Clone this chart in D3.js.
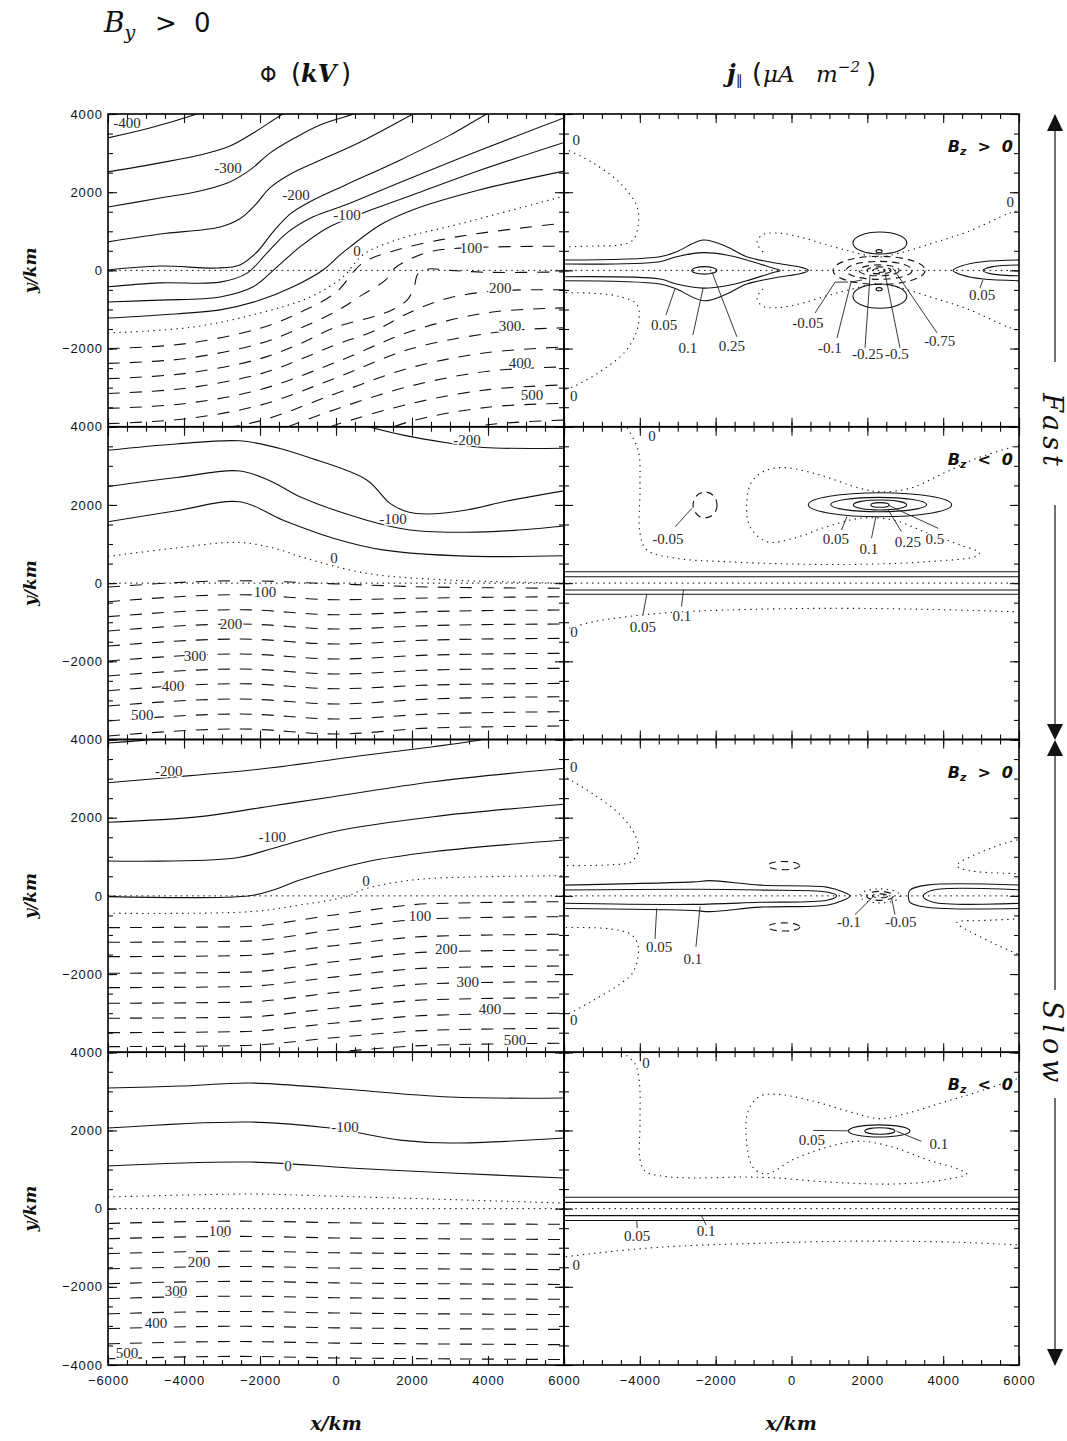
<!DOCTYPE html>
<html>
<head>
<meta charset="utf-8">
<script src="https://cdn.jsdelivr.net/npm/d3@7"></script>
<style>
  body { margin: 0; background: #fff; }
  svg { display: block; }
</style>
</head>
<body>
<svg id="fig" width="1067" height="1441"></svg>
<script>
// ================= axis values =================
const xDomain = [-6000, 6000];
const yDomain = [-4000, 4000];
const xMajor = [-6000, -4000, -2000, 0, 2000, 4000, 6000];
const yMajor = [-4000, -2000, 0, 2000, 4000];
const xLabelsLeft = [-6000, -4000, -2000, 0, 2000, 4000, 6000];
const xLabelsRight = [-4000, -2000, 0, 2000, 4000, 6000];
const yLabelsUpper = [4000, 2000, 0, -2000];
const yLabelsBottom = [4000, 2000, 0, -2000, -4000];
const rowX = [-6000, -2500, 0, 2500, 6000];

// ================= electric potential Φ (kV), contours in km =================
// Fast, Bz > 0
const phiFastPos = [
  {level: -400, pts: [[-6000,3390],[-4900,3640],[-3660,4000],[-3320,4120]]},
  {level: -350, pts: [[-6000,2520],[-4630,2750],[-3580,2950],[-2790,3180],[-2130,3540],[-1400,4000],[-1080,4150]]},
  {level: -300, pts: [[-6000,1620],[-4630,1850],[-3580,2030],[-2840,2240],[-2260,2570],[-1740,3000],[-1080,3390],[-420,3720],[450,4000],[760,4150]]},
  {level: -250, pts: [[-6000,730],[-4630,930],[-3050,1110],[-2530,1320],[-2130,1670],[-1740,2110],[-1210,2460],[-420,2820],[630,3280],[2030,4000],[2340,4150]]},
  {level: -200, pts: [[-6000,10],[-4630,110],[-3130,60],[-2530,140],[-2080,470],[-1660,980],[-1210,1440],[-600,1800],[240,2180],[1680,2820],[3000,3460],[3970,4000],[4400,4200]]},
  {level: -150, pts: [[-6000,-420],[-4630,-320],[-3050,-300],[-2340,-70],[-1820,440],[-1290,960],[-600,1370],[240,1670],[1680,2250],[3790,3070],[6000,3900],[6300,4000]]},
  {level: -100, pts: [[-6000,-810],[-4630,-760],[-3050,-680],[-2180,-420],[-1550,90],[-950,600],[-240,1080],[710,1470],[2210,2000],[3790,2560],[6000,3270]]},
  {level: -50, pts: [[-6000,-1220],[-4630,-1140],[-3050,-1010],[-2000,-760],[-1130,-420],[-340,10],[100,390],[370,600],[1160,1160],[2030,1550],[3790,2060],[6000,2540]]},
  {level: 0, pts: [[-6000,-1600],[-3760,-1450],[-2000,-1090],[-680,-680],[180,-170],[710,400],[1600,780],[3340,1210],[6000,1900]]},
  {level: 50, pts: [[-6000,-2000],[-4000,-1880],[-2000,-1480],[-1000,-1100],[0,-560],[700,190],[1600,520],[2740,780],[3870,960],[6000,1210]]},
  {level: 100, pts: [[-6000,-2380],[-4000,-2260],[-2000,-1870],[-1000,-1500],[0,-1050],[700,-620],[1300,-250],[1550,60],[1870,250],[2470,480],[3260,570],[6000,620]]},
  {level: 150, pts: [[-6000,-2770],[-4000,-2640],[-2000,-2260],[-1000,-1900],[0,-1450],[1000,-1180],[1500,-1000],[1870,-760],[2050,-450],[2150,-100],[2400,30],[3000,0],[4000,-50],[6000,-40]]},
  {level: 200, pts: [[-6000,-3150],[-4000,-3020],[-2000,-2650],[-1000,-2300],[0,-1900],[1000,-1550],[2000,-1050],[3000,-700],[4300,-520],[6000,-500]]},
  {level: 250, pts: [[-6000,-3530],[-4000,-3410],[-2000,-3050],[0,-2350],[2000,-1550],[4000,-1080],[6000,-960]]},
  {level: 300, pts: [[-6000,-3920],[-4000,-3800],[-2000,-3450],[0,-2750],[2000,-2000],[4500,-1550],[6000,-1470]]},
  {level: 350, pts: [[-4000,-4190],[-2000,-3850],[0,-3150],[2000,-2480],[4000,-2100],[6000,-1960]]},
  {level: 400, pts: [[-1800,-4200],[0,-3550],[2000,-2950],[4000,-2580],[6000,-2470]]},
  {level: 450, pts: [[-700,-4200],[0,-3950],[2000,-3400],[4000,-3050],[6000,-2930]]},
  {level: 500, pts: [[1000,-4200],[2000,-3850],[4000,-3500],[6000,-3400]]},
  {level: 550, pts: [[2800,-4200],[4000,-3950],[6000,-3830]]}
];
const phiFastPosLabels = [[-400,-5500,3760],[-300,-2840,2630],[-200,-1050,1930],[-100,290,1420],[0,550,500],
  [100,3550,570],[200,4320,-450],[300,4580,-1420],[400,4840,-2370],[500,5160,-3190]];

// Fast, Bz < 0
const phiFastNeg = [
  {level: -200, pts: [[100,4250],[720,4040],[1800,3780],[3000,3580],[3880,3470],[6000,3450]]},
  {level: -150, pts: [[-6000,3400],[-4200,3560],[-2530,3640],[-1500,3450],[-770,3230],[810,2640],[1420,2040],[1900,1820],[2390,1770],[3440,1870],[4500,2100],[6000,2360]]},
  {level: -100, pts: [[-6000,2470],[-4200,2700],[-2530,2870],[-1700,2600],[-950,2210],[810,1610],[1950,1360],[3440,1300],[4700,1350],[6000,1460]]},
  {level: -50, pts: [[-6000,1570],[-4200,1850],[-2530,2080],[-1390,1610],[-70,1150],[1240,850],[3440,690],[6000,700]]},
  {level: 0, pts: [[-6000,680],[-4200,900],[-2530,1040],[-1500,860],[-950,680],[810,250],[2560,100],[4500,30],[6000,0]]}
];
const phiFastNegRows = [
  {level: 50, ys: [-100,60,-20,-100,-130]},
  {level: 100, ys: [-476,-297,-425,-381,-348]},
  {level: 150, ys: [-859,-680,-808,-726,-688]},
  {level: 200, ys: [-1225,-1046,-1174,-1084,-1046]},
  {level: 250, ys: [-1609,-1430,-1558,-1455,-1412]},
  {level: 300, ys: [-1992,-1813,-1941,-1839,-1795]},
  {level: 350, ys: [-2376,-2197,-2325,-2222,-2179]},
  {level: 400, ys: [-2752,-2573,-2701,-2606,-2563]},
  {level: 450, ys: [-3143,-2964,-3092,-2964,-2905]},
  {level: 500, ys: [-3527,-3348,-3476,-3348,-3289]},
  {level: 550, ys: [-3910,-3731,-3860,-3706,-3655]}
];
const phiFastNegLabels = [[-200,3450,3670],[-100,1500,1640],[0,-50,640],
  [100,-1870,-230],[200,-2760,-1050],[300,-3710,-1870],[400,-4290,-2630],[500,-5100,-3380]];

// Slow, Bz > 0
const phiSlowPos = [
  {level: -250, pts: [[-6000,3910],[-4970,3990],[-4000,4120]]},
  {level: -200, pts: [[-6000,2895],[-4450,3023],[-1820,3263],[810,3604],[2560,3816],[3790,3987],[4300,4100]]},
  {level: -150, pts: [[-6000,1882],[-3580,2026],[-1820,2281],[-70,2537],[2560,2921],[6000,3263]]},
  {level: -100, pts: [[-6000,893],[-2700,962],[-1650,1217],[-70,1642],[2560,2026],[6000,2343]]},
  {level: -50, pts: [[-6000,-20],[-2260,5],[-1650,151],[-950,407],[810,875],[2560,1130],[6000,1430]]},
  {level: 0, pts: [[-6000,-445],[-2260,-404],[-950,-233],[190,-36],[810,194],[1680,363],[2560,450],[6000,517]]}
];
const phiSlowPosRows = [
  {level: 50, ys: [-813,-788,-481,-199,-148]},
  {level: 100, ys: [-1187,-1161,-859,-583,-532]},
  {level: 150, ys: [-1555,-1529,-1268,-1033,-982]},
  {level: 200, ys: [-1980,-1954,-1680,-1435,-1384]},
  {level: 250, ys: [-2348,-2322,-2072,-1844,-1793]},
  {level: 300, ys: [-2747,-2721,-2471,-2245,-2194]},
  {level: 350, ys: [-3130,-3105,-2867,-2655,-2604]},
  {level: 400, ys: [-3499,-3473,-3251,-3054,-3002]},
  {level: 450, ys: [-3857,-3831,-3622,-3437,-3386]},
  {level: 500, ys: [-4222,-4197,-3992,-3821,-3770]}
];
const phiSlowPosLabels = [[-200,-4400,3194],[-100,-1680,1506],[0,790,381],
  [100,2210,-512],[200,2900,-1356],[300,3470,-2200],[400,4050,-2893],[500,4710,-3690]];

// Slow, Bz < 0
const phiSlowNeg = [
  {level: -150, pts: [[-6000,3084],[-4105,3135],[-2263,3212],[-158,3084],[3000,2854],[6000,2829]]},
  {level: -100, pts: [[-6000,2061],[-2263,2215],[-158,2061],[1684,1753],[3000,1678],[6000,1806]]},
  {level: -50, pts: [[-6000,1090],[-2263,1192],[368,1038],[3000,910],[6000,783]]},
  {level: 0, pts: [[-6000,297],[-2263,373],[-158,322],[6000,143]]}
];
const phiSlowNegRows = [
  {level: 50, ys: [-380,-320,-360,-385,-400]},
  {level: 100, ys: [-770,-710,-750,-770,-790]},
  {level: 150, ys: [-1150,-1090,-1130,-1150,-1170]},
  {level: 200, ys: [-1540,-1480,-1520,-1540,-1560]},
  {level: 250, ys: [-1920,-1860,-1900,-1920,-1940]},
  {level: 300, ys: [-2300,-2240,-2280,-2300,-2320]},
  {level: 350, ys: [-2690,-2630,-2670,-2690,-2710]},
  {level: 400, ys: [-3070,-3010,-3050,-3070,-3090]},
  {level: 450, ys: [-3460,-3400,-3440,-3460,-3480]},
  {level: 500, ys: [-3840,-3780,-3820,-3840,-3860]}
];
const phiSlowNegLabels = [[-100,237,2087],[0,-1263,1090],
  [100,-3053,-573],[200,-3605,-1366],[300,-4210,-2107],[400,-4737,-2925],[500,-5500,-3693]];

// ================= field-aligned current j|| (µA m^-2), contours in km =================
// Fast, Bz > 0
const jFastPos = [
  {level: 0, pts: [[-6000,3130],[-5890,3078],[-5230,2744],[-4520,2233],[-4070,1620],[-4050,1110],[-4180,777],[-4520,650],[-5230,624],[-6100,598]]},
  {level: 0, pts: [[-6100,-570],[-5230,-586],[-4520,-673],[-4070,-885],[-4050,-1440],[-4350,-2036],[-4980,-2548],[-5760,-2975],[-6100,-3070]]},
  {level: 0, pts: [[-752,471],[-910,700],[-780,905],[-380,956],[224,854],[936,650],[1622,471],[2255,343],[2861,445],[3731,701],[4628,982],[5762,1468],[6100,1560]]},
  {level: 0, pts: [[-752,-471],[-910,-700],[-780,-905],[-380,-956],[224,-854],[936,-650],[1622,-471],[2255,-343],[2861,-445],[3731,-701],[4628,-982],[5762,-1468],[6100,-1560]]},
  {level: 0.05, pts: [[-6100,266],[-3470,350],[-3030,478],[-2330,777],[-1710,606],[-1180,350],[-390,182],[250,80],[443,0],[250,-80],[-390,-182],[-1180,-350],[-1710,-606],[-2330,-777],[-3030,-478],[-3470,-350],[-6100,-266]]},
  {level: 0.1, pts: [[-6100,164],[-3470,222],[-3030,350],[-2330,453],[-1710,394],[-1180,266],[-500,60],[-300,0],[-500,-60],[-1180,-266],[-1710,-394],[-2330,-453],[-3030,-350],[-3470,-222],[-6100,-164]]},
  {level: 0.05, pts: [[6100,266],[5050,222],[4500,120],[4260,0],[4500,-120],[5050,-222],[6100,-266]]},
  {level: 0.1, pts: [[6100,138],[5310,95],[5050,0],[5310,-95],[6100,-138]]}
];
const jFastPosRings = [
  {level: 0.25, cx: -2300, cy: 0, rx: 330, ry: 95},
  {level: 0.05, cx: 2330, cy: 700, rx: 710, ry: 280},
  {level: 0.05, cx: 2330, cy: -660, rx: 710, ry: 310},
  {level: 0.1, cx: 2310, cy: 490, rx: 80, ry: 40},
  {level: 0.1, cx: 2310, cy: -480, rx: 80, ry: 40},
  {level: -0.05, cx: 2310, cy: 0, rx: 1213, ry: 360},
  {level: -0.1, cx: 2310, cy: 0, rx: 870, ry: 230},
  {level: -0.25, cx: 2310, cy: 0, rx: 530, ry: 140},
  {level: -0.5, cx: 2310, cy: 0, rx: 316, ry: 90},
  {level: -0.75, cx: 2310, cy: 0, rx: 160, ry: 50}
];
const jFastPosLabels = [[0,-5680,3340],[0,-5740,-3210],[0,5770,1750],
  [0.05,-3360,-1400],[0.1,-2730,-1980],[0.25,-1570,-1930],
  [-0.05,435,-1350],[-0.1,1010,-1980],[-0.25,2010,-2140],[-0.5,2780,-2140],[-0.75,3910,-1800],[0.05,5030,-630]];
const jFastPosLeaders = [
  [[-3310,-1140],[-3070,-460]],
  [[-2600,-1650],[-2330,-450]],
  [[-1440,-1700],[-2100,-40]],
  [[620,-1090],[1150,-300],[1490,-300]],
  [[1200,-1730],[1570,-300],[1860,-245]],
  [[1940,-1980],[2070,-140]],
  [[2860,-1980],[2470,-90]],
  [[3840,-1600],[2670,60]],
  [[4970,-450],[5050,-245]]
];

// Fast, Bz < 0
const jFastNeg = [
  {level: 0, pts: [[-4400,4100],[-4346,4000],[-4040,3386],[-3995,2465],[-3995,1274],[-3818,847],[-3027,634],[-1709,547],[47,488],[1806,481],[3565,547],[4884,693],[4952,777],[4451,975],[3565,1289],[2684,1614],[1806,1657],[928,1442],[47,1146],[-654,1059],[-1094,1442],[-1181,2041],[-1050,2593],[-654,2893],[-127,2951],[752,2765],[1806,2425],[2334,2338],[3125,2425],[4003,2808],[4884,3192],[6100,3560]]},
  {level: 0, pts: [[-6000,-1200],[-5226,-987],[-3468,-772],[-1709,-688],[928,-645],[3565,-670],[5938,-731],[6100,-735]]},
  {level: 0.05, pts: [[-6100,292],[6100,292]]},
  {level: 0.1, pts: [[-6100,164],[6100,164]]},
  {level: 0.1, pts: [[-6100,-176],[6100,-176]]},
  {level: 0.05, pts: [[-6100,-286],[6100,-286]]}
];
const jFastNegRings = [
  {level: 0.05, cx: 2334, cy: 2005, rx: 1890, ry: 307},
  {level: 0.1, cx: 2300, cy: 2010, rx: 1266, ry: 184},
  {level: 0.25, cx: 2334, cy: 2000, rx: 704, ry: 128},
  {level: 0.5, cx: 2334, cy: 2000, rx: 242, ry: 60},
  {level: -0.05, cx: -2280, cy: 2000, rx: 316, ry: 330}
];
const jFastNegLabels = [[0,-3680,3760],[0,-5735,-1250],
  [0.05,-3920,-1120],[0.1,-2890,-840],[-0.05,-3260,1130],
  [0.05,1170,1130],[0.1,2040,870],[0.25,3070,1050],[0.5,3780,1130]];
const jFastNegLeaders = [
  [[-3920,-816],[-3820,-300]],
  [[-2900,-600],[-2850,-180]],
  [[-3070,1440],[-2630,1910]],
  [[1320,1360],[1460,1700]],
  [[2110,1150],[2230,1720]],
  [[2900,1320],[2550,1870]],
  [[3870,1400],[2560,1990]]
];

// Slow, Bz > 0
const jSlowPos = [
  {level: 0, pts: [[-6050,3080],[-5928,3018],[-5226,2601],[-4522,2079],[-4127,1558],[-4040,1192],[-4214,880],[-4786,795],[-6100,775]]},
  {level: 0, pts: [[-6100,-813],[-4786,-844],[-4214,-1000],[-4040,-1312],[-4170,-1939],[-4522,-2253],[-5226,-2670],[-5928,-3036],[-6050,-3080]]},
  {level: 0, pts: [[6100,1470],[5322,1245],[4356,775],[4500,690],[4884,619],[6100,565]]},
  {level: 0, pts: [[6100,-1540],[5322,-1210],[4356,-688],[4500,-640],[4884,-634],[6100,-583]]},
  {level: 0.05, pts: [[-6100,274],[-2590,358],[-2149,389],[-831,274],[928,223],[1366,97],[1543,0],[1366,-113],[928,-238],[-831,-289],[-2149,-404],[-2590,-373],[-6100,-322]]},
  {level: 0.1, pts: [[-6100,149],[-2590,169],[-831,149],[928,97],[1192,0],[928,-113],[-831,-164],[-2590,-217],[-6100,-187]]},
  {level: 0.05, pts: [[6100,274],[3565,274],[3125,149],[3080,-8],[3125,-164],[3565,-289],[6100,-322]]},
  {level: 0.1, pts: [[6100,149],[3740,149],[3476,-8],[3740,-164],[6100,-187]]}
];
const jSlowPosRings = [
  {level: 0, cx: 2334, cy: 0, rx: 530, ry: 180},
  {level: -0.05, cx: 2334, cy: 0, rx: 350, ry: 115},
  {level: -0.1, cx: 2334, cy: 0, rx: 200, ry: 50},
  {level: -0.05, cx: -200, cy: 775, rx: 420, ry: 105},
  {level: -0.05, cx: -200, cy: -795, rx: 420, ry: 105}
];
const jSlowPosLabels = [[0,-5740,3300],[0,-5740,-3170],
  [0.05,-3490,-1300],[0.1,-2600,-1610],[-0.1,1516,-667],[-0.05,2885,-667]];
const jSlowPosLeaders = [
  [[-3600,-1100],[-3555,-322]],
  [[-2520,-1300],[-2410,-270]],
  [[1675,-480],[2160,-10]],
  [[2730,-480],[2640,-60]]
];

// Slow, Bz < 0
const jSlowNeg = [
  {level: 0, pts: [[-4420,4050],[-4346,3918],[-4127,3708],[-4014,3240],[-3995,2194],[-3995,1256],[-3863,964],[-3468,839],[-2590,785],[-1271,808],[-390,785],[928,683],[2684,629],[4003,734],[4620,890],[4443,995],[3565,1256],[2684,1570],[1806,1726],[928,1570],[47,1256],[-654,890],[-1007,1046],[-1181,1673],[-1139,2509],[-831,2875],[-390,2926],[488,2770],[1806,2404],[2334,2302],[3125,2458],[4003,2719],[4884,2979],[6100,3370]]},
  {level: 0, pts: [[-6100,-1250],[-5226,-1146],[-3468,-987],[-831,-885],[1806,-831],[4443,-862],[6100,-936]]},
  {level: 0.05, pts: [[-6100,290],[6100,290]]},
  {level: 0.1, pts: [[-6100,160],[6100,160]]},
  {level: 0.1, pts: [[-6100,-180],[6100,-180]]},
  {level: 0.05, pts: [[-6100,-305],[6100,-305]]}
];
const jSlowNegRings = [
  {level: 0.05, cx: 2312, cy: 1987, rx: 812, ry: 156},
  {level: 0.1, cx: 2330, cy: 1985, rx: 396, ry: 84}
];
const jSlowNegLabels = [[0,-3840,3720],[0,-5680,-1440],
  [0.05,-4070,-700],[0.1,-2250,-570],[0.05,540,1750],[0.1,3890,1650]];
const jSlowNegLeaders = [
  [[-4080,-310],[-4070,-500]],
  [[-2370,-190],[-2250,-420]],
  [[575,2000],[1500,1990]],
  [[3430,1720],[2770,1980]]
];

// ================= layout =================
const COL_X = [108, 564];
const COL_W = [456, 455];
const ROW_Y = [114, 426.75, 739.5, 1052.25];
const PANEL_H = 312.75;

const asLines = rows => rows.map(r => ({level: r.level, pts: rowX.map((x, i) => [x, r.ys[i]])}));

const panels = [
  {row: 0, col: 0, lines: phiFastPos, rows: [], rings: [], labels: phiFastPosLabels, leaders: []},
  {row: 1, col: 0, lines: phiFastNeg, rows: asLines(phiFastNegRows), rings: [], labels: phiFastNegLabels, leaders: []},
  {row: 2, col: 0, lines: phiSlowPos, rows: asLines(phiSlowPosRows), rings: [], labels: phiSlowPosLabels, leaders: []},
  {row: 3, col: 0, lines: phiSlowNeg, rows: asLines(phiSlowNegRows), rings: [], labels: phiSlowNegLabels, leaders: []},
  {row: 0, col: 1, lines: jFastPos, rows: [], rings: jFastPosRings, labels: jFastPosLabels, leaders: jFastPosLeaders, tag: ">"},
  {row: 1, col: 1, lines: jFastNeg, rows: [], rings: jFastNegRings, labels: jFastNegLabels, leaders: jFastNegLeaders, tag: "<"},
  {row: 2, col: 1, lines: jSlowPos, rows: [], rings: jSlowPosRings, labels: jSlowPosLabels, leaders: jSlowPosLeaders, tag: ">"},
  {row: 3, col: 1, lines: jSlowNeg, rows: [], rings: jSlowNegRings, labels: jSlowNegLabels, leaders: jSlowNegLeaders, tag: "<"}
];

const DOT = "1.3,4.4", DASH = "12,10";
// Φ: negative solid, positive dashed; j||: positive solid, negative dashed; zero dotted
function dashFor(level, col) {
  if (level === 0) return DOT;
  const solid = col === 0 ? level < 0 : level > 0;
  return solid ? null : DASH;
}

const svg = d3.select("#fig");
const defs = svg.append("defs");
const tickFont = "'Liberation Sans', Arial, sans-serif";
const labelFont = "'Liberation Serif', 'Times New Roman', serif";
const mathFont = "'DejaVu Serif', serif";

panels.forEach((p, i) => {
  const x0 = COL_X[p.col], w = COL_W[p.col], y0 = ROW_Y[p.row];
  const x = d3.scaleLinear().domain(xDomain).range([x0, x0 + w]);
  const y = d3.scaleLinear().domain(yDomain).range([y0 + PANEL_H, y0]);

  defs.append("clipPath").attr("id", "clip" + i)
    .append("rect").attr("x", x0).attr("y", y0).attr("width", w).attr("height", PANEL_H);

  const g = svg.append("g");
  const c = g.append("g").attr("clip-path", `url(#clip${i})`);

  // y = 0 reference line
  c.append("line")
    .attr("x1", x(xDomain[0])).attr("x2", x(xDomain[1]))
    .attr("y1", y(0)).attr("y2", y(0))
    .attr("stroke", "#111").attr("stroke-width", 1).attr("stroke-dasharray", "1.6,4");

  const curve = d3.line().x(d => x(d[0])).y(d => y(d[1])).curve(d3.curveCatmullRom.alpha(0.5));
  const flat = d3.line().x(d => x(d[0])).y(d => y(d[1])).curve(d3.curveMonotoneX);

  c.selectAll("path.ct").data(p.lines).join("path").attr("class", "ct")
    .attr("d", d => curve(d.pts))
    .attr("fill", "none").attr("stroke", "#111").attr("stroke-width", 1.1)
    .attr("stroke-dasharray", d => dashFor(d.level, p.col));

  c.selectAll("path.rw").data(p.rows).join("path").attr("class", "rw")
    .attr("d", d => flat(d.pts))
    .attr("fill", "none").attr("stroke", "#111").attr("stroke-width", 1.1)
    .attr("stroke-dasharray", d => dashFor(d.level, p.col));

  c.selectAll("ellipse").data(p.rings).join("ellipse")
    .attr("cx", d => x(d.cx)).attr("cy", d => y(d.cy))
    .attr("rx", d => x(d.cx + d.rx) - x(d.cx))
    .attr("ry", d => y(d.cy) - y(d.cy + d.ry))
    .attr("fill", "none").attr("stroke", "#111").attr("stroke-width", 1.1)
    .attr("stroke-dasharray", d => d.level < 0 ? "7,5" : dashFor(d.level, p.col));

  const straight = d3.line().x(d => x(d[0])).y(d => y(d[1]));
  c.selectAll("path.ld").data(p.leaders).join("path").attr("class", "ld")
    .attr("d", d => straight(d))
    .attr("fill", "none").attr("stroke", "#222").attr("stroke-width", 0.9);

  // contour labels sit in a small gap cut into the lines
  c.selectAll("text.lb").data(p.labels).join("text").attr("class", "lb")
    .attr("x", d => x(d[1])).attr("y", d => y(d[2]))
    .attr("text-anchor", "middle").attr("dominant-baseline", "central")
    .attr("font-family", labelFont).attr("font-size", 15).attr("fill", "#2a2a2a")
    .attr("stroke", "#fff").attr("stroke-width", 3).attr("paint-order", "stroke")
    .text(d => String(d[0]));

  // inward ticks on all four sides
  const minorX = d3.range(-6000, 6001, 500), minorY = d3.range(-4000, 4001, 500);
  const tickSet = [
    [d3.axisBottom(x).tickValues(minorX).tickSize(-5), `translate(0,${y0 + PANEL_H})`],
    [d3.axisBottom(x).tickValues(xMajor).tickSize(-9), `translate(0,${y0 + PANEL_H})`],
    [d3.axisTop(x).tickValues(minorX).tickSize(-5), `translate(0,${y0})`],
    [d3.axisTop(x).tickValues(xMajor).tickSize(-9), `translate(0,${y0})`],
    [d3.axisLeft(y).tickValues(minorY).tickSize(-5), `translate(${x0},0)`],
    [d3.axisLeft(y).tickValues(yMajor).tickSize(-9), `translate(${x0},0)`],
    [d3.axisRight(y).tickValues(minorY).tickSize(-5), `translate(${x0 + w},0)`],
    [d3.axisRight(y).tickValues(yMajor).tickSize(-9), `translate(${x0 + w},0)`]
  ];
  tickSet.forEach(([ax, tr]) => {
    const t = g.append("g").attr("transform", tr).call(ax.tickFormat(""));
    t.select(".domain").remove();
    t.selectAll("line").attr("stroke", "#111").attr("stroke-width", 1.1);
  });

  g.append("rect").attr("x", x0).attr("y", y0).attr("width", w).attr("height", PANEL_H)
    .attr("fill", "none").attr("stroke", "#000").attr("stroke-width", 1.6);

  // tick labels
  if (p.col === 0) {
    const yl = g.append("g").attr("transform", `translate(${x0},0)`)
      .call(d3.axisLeft(y).tickValues(p.row === 3 ? yLabelsBottom : yLabelsUpper).tickSize(0).tickPadding(5).tickFormat(d3.format("d")));
    yl.select(".domain").remove();
    yl.selectAll("text").attr("font-family", tickFont).attr("font-size", 13).attr("letter-spacing", "0.9px").attr("fill", "#111");
  }
  if (p.row === 3) {
    const xl = g.append("g").attr("transform", `translate(0,${y0 + PANEL_H})`)
      .call(d3.axisBottom(x).tickValues(p.col === 0 ? xLabelsLeft : xLabelsRight).tickSize(0).tickPadding(11).tickFormat(d3.format("d")));
    xl.select(".domain").remove();
    xl.selectAll("text").attr("font-family", tickFont).attr("font-size", 13).attr("letter-spacing", "0.9px").attr("fill", "#111");
  }

  // Bz sign tag
  if (p.tag) {
    const t = g.append("text").attr("x", x0 + w - 6).attr("y", y0 + 38)
      .attr("text-anchor", "end").attr("font-family", "'DejaVu Sans', sans-serif")
      .attr("font-style", "italic").attr("font-weight", "bold").attr("font-size", 16).attr("fill", "#111");
    t.append("tspan").text("B");
    t.append("tspan").attr("font-size", 11).attr("dy", 3).text("z");
    t.append("tspan").attr("dx", 11).attr("dy", -3).text(p.tag);
    t.append("tspan").attr("dx", 11).text("0");
  }

  // y axis title
  if (p.col === 0) {
    svg.append("text").attr("transform", `translate(36,${y(0)}) rotate(-90)`)
      .attr("text-anchor", "middle").attr("font-family", mathFont)
      .attr("font-style", "italic").attr("font-weight", "bold").attr("font-size", 17).attr("fill", "#111")
      .text("y/km");
  }
});

// x axis titles
[[336, 1430], [791, 1430]].forEach(([cx, cy]) => {
  svg.append("text").attr("x", cx).attr("y", cy).attr("text-anchor", "middle")
    .attr("font-family", mathFont).attr("font-style", "italic").attr("font-weight", "bold")
    .attr("font-size", 19).attr("fill", "#111").text("x/km");
});

// headings
const hB = svg.append("text").attr("y", 32).attr("fill", "#111");
hB.append("tspan").attr("x", 104).attr("font-family", mathFont).attr("font-style", "italic").attr("font-size", 28).text("B");
hB.append("tspan").attr("font-family", mathFont).attr("font-style", "italic").attr("font-size", 19).attr("dy", 7).text("y");
hB.append("tspan").attr("x", 155).attr("dy", -7).attr("font-family", "'DejaVu Sans', sans-serif").attr("font-size", 26).text(">");
hB.append("tspan").attr("x", 194).attr("font-family", "'DejaVu Sans', sans-serif").attr("font-size", 26).text("0");

const hPhi = svg.append("text").attr("y", 82).attr("fill", "#111");
hPhi.append("tspan").attr("x", 260).attr("font-family", "'DejaVu Sans', sans-serif").attr("font-size", 21).text("Φ");
hPhi.append("tspan").attr("x", 291).attr("font-family", "'DejaVu Sans', sans-serif").attr("font-size", 26).text("(");
hPhi.append("tspan").attr("x", 301).attr("font-family", mathFont).attr("font-style", "italic").attr("font-weight", "bold").attr("font-size", 24).text("kV");
hPhi.append("tspan").attr("x", 341).attr("font-family", "'DejaVu Sans', sans-serif").attr("font-size", 26).text(")");

const hJ = svg.append("text").attr("y", 82).attr("fill", "#111");
hJ.append("tspan").attr("x", 727).attr("font-family", mathFont).attr("font-style", "italic").attr("font-weight", "bold").attr("font-size", 24).text("j");
hJ.append("tspan").attr("font-family", "'DejaVu Sans', sans-serif").attr("font-size", 14).attr("dy", 3).text("∥");
hJ.append("tspan").attr("x", 752).attr("dy", -3).attr("font-family", "'DejaVu Sans', sans-serif").attr("font-size", 26).text("(");
hJ.append("tspan").attr("x", 763).attr("font-family", mathFont).attr("font-style", "italic").attr("font-size", 23).text("μA");
hJ.append("tspan").attr("x", 816).attr("font-family", mathFont).attr("font-style", "italic").attr("font-size", 23).text("m");
hJ.append("tspan").attr("font-family", mathFont).attr("font-style", "italic").attr("font-size", 15).attr("dy", -10).text("−2");
hJ.append("tspan").attr("x", 866).attr("dy", 10).attr("font-family", "'DejaVu Sans', sans-serif").attr("font-size", 26).text(")");

// Fast / Slow arrows on the right margin
const AX = 1055;
const arrows = svg.append("g").attr("stroke", "#111").attr("fill", "#111");
[[130, 362], [505, 725], [755, 990], [1098, 1350]].forEach(([a, b]) => {
  arrows.append("line").attr("x1", AX).attr("x2", AX).attr("y1", a).attr("y2", b).attr("stroke-width", 1.2);
});
const tri = (tipY, baseY) => `M${AX},${tipY}L${AX - 8},${baseY}L${AX + 8},${baseY}Z`;
[[114, 131], [740, 724], [740, 756], [1366, 1349]].forEach(([t, b]) => {
  arrows.append("path").attr("d", tri(t, b)).attr("stroke", "none");
});
[["Fast", 432], ["Slow", 1044]].forEach(([s, cy]) => {
  svg.append("text").attr("transform", `translate(${AX - 12},${cy}) rotate(90)`)
    .attr("text-anchor", "middle").attr("font-family", mathFont).attr("font-style", "italic")
    .attr("font-size", 27).attr("letter-spacing", "5px").attr("fill", "#111").text(s);
});
</script>
</body>
</html>
